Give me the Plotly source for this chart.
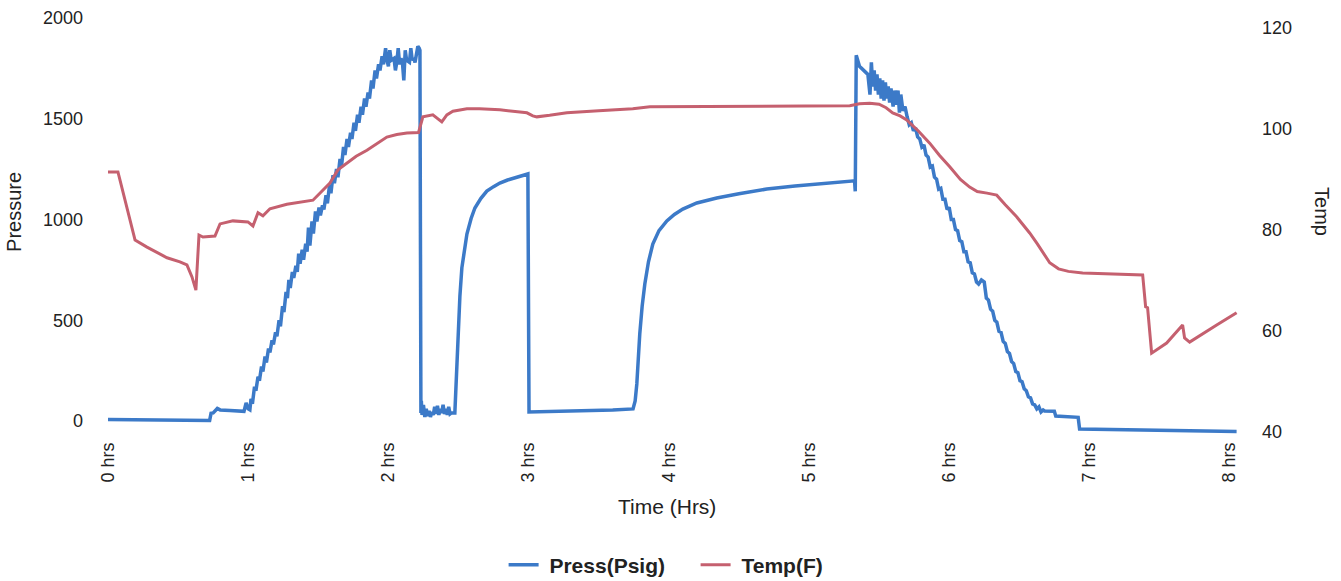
import plotly.graph_objects as go

# ---- Data ----
hour_ticks = [0, 1, 2, 3, 4, 5, 6, 7, 8]
hour_labels = ["0 hrs", "1 hrs", "2 hrs", "3 hrs", "4 hrs", "5 hrs", "6 hrs", "7 hrs", "8 hrs"]
press_ticks = [0, 500, 1000, 1500, 2000]
temp_ticks = [40, 60, 80, 100, 120]

press_hours = [
    0.0, 0.3, 0.6, 0.725, 0.735, 0.75, 0.78, 0.80, 0.87, 0.97, 0.985, 1.0, 1.012,
    1.02, 1.03, 1.045, 1.055, 1.07, 1.08, 1.095, 1.105, 1.12, 1.13, 1.145, 1.155,
    1.17, 1.18, 1.195, 1.205, 1.22, 1.23, 1.245, 1.255, 1.27, 1.28, 1.29, 1.30,
    1.315, 1.325, 1.34, 1.35, 1.36, 1.37, 1.385, 1.395, 1.41, 1.42, 1.43, 1.44,
    1.455, 1.465, 1.48, 1.49, 1.505, 1.515, 1.53, 1.54, 1.555, 1.565, 1.58, 1.59,
    1.605, 1.615, 1.63, 1.64, 1.655, 1.665, 1.68, 1.69, 1.705, 1.715, 1.73, 1.74,
    1.755, 1.765, 1.78, 1.79, 1.805, 1.815, 1.83, 1.84, 1.855, 1.865, 1.88, 1.89,
    1.905, 1.915, 1.93, 1.94, 1.955, 1.965, 1.98, 1.99,
    2.00, 2.01, 2.02, 2.04, 2.05, 2.06, 2.07, 2.08, 2.09, 2.10, 2.11, 2.12, 2.13,
    2.15, 2.16, 2.17, 2.18, 2.19, 2.20, 2.21, 2.22, 2.225,
    2.232, 2.235, 2.24, 2.25, 2.26, 2.27, 2.28, 2.29, 2.30, 2.31, 2.32, 2.33, 2.34,
    2.35, 2.36, 2.37, 2.38, 2.39, 2.40, 2.41, 2.42, 2.43, 2.44, 2.45, 2.474,
    2.48, 2.487, 2.496, 2.51, 2.524, 2.54, 2.56, 2.59, 2.617, 2.66, 2.702, 2.75,
    2.795, 2.85, 2.916, 2.995,
    3.003, 3.3, 3.6, 3.745, 3.76, 3.772, 3.78, 3.793, 3.81, 3.829, 3.855, 3.886,
    3.93, 3.986, 4.04, 4.1, 4.2, 4.342, 4.5, 4.699, 4.9, 5.055, 5.2, 5.325, 5.33,
    5.337, 5.36, 5.38, 5.40, 5.42, 5.435, 5.445, 5.455, 5.465, 5.475, 5.485, 5.495,
    5.505, 5.515, 5.525, 5.535, 5.545, 5.555, 5.565, 5.575, 5.585, 5.60, 5.61, 5.62,
    5.635, 5.645, 5.655, 5.67, 5.685,
    5.70, 5.715, 5.73, 5.745, 5.76, 5.775, 5.79, 5.805, 5.82, 5.835, 5.85, 5.865,
    5.88, 5.895, 5.91, 5.925, 5.94, 5.955, 5.97, 5.985, 6.00, 6.015, 6.03, 6.045,
    6.06, 6.075, 6.09, 6.105, 6.12, 6.135, 6.15, 6.165, 6.18, 6.195, 6.21, 6.23,
    6.25, 6.265, 6.28, 6.295, 6.31, 6.325, 6.34, 6.355, 6.37, 6.385, 6.40, 6.415,
    6.43, 6.445, 6.46, 6.475, 6.49, 6.505, 6.52, 6.535, 6.55, 6.565, 6.58, 6.595,
    6.61, 6.625, 6.64, 6.655, 6.67, 6.68, 6.75, 6.76, 6.92, 6.93, 8.05,
]
press_psig = [
    8, 6, 4, 3, 38, 40, 62, 55, 52, 48, 90, 60, 55,
    110, 85, 170, 150, 220, 200, 270, 245, 320, 290, 360, 340,
    400, 380, 440, 420, 500, 470, 570, 540, 640, 610, 700, 660,
    740, 710, 770, 740, 830, 780, 850, 800, 880, 840, 960, 870,
    990, 930, 1040, 990, 1060, 1020, 1070, 1050, 1120, 1080, 1170, 1130,
    1220, 1180, 1250, 1210, 1300, 1260, 1360, 1320, 1400, 1360, 1430, 1400,
    1480, 1440, 1520, 1480, 1560, 1520, 1600, 1560, 1630, 1600, 1690, 1650,
    1740, 1700, 1770, 1740, 1810, 1770, 1850, 1790,
    1760, 1840, 1790, 1800, 1740, 1780, 1850, 1770, 1800, 1780, 1690, 1840, 1790,
    1780, 1850, 1790, 1800, 1780, 1820, 1860, 1850, 1840,
    40, 100, 30, 80, 20, 60, 25, 50, 20, 45, 30, 70, 35,
    75, 30, 60, 40, 80, 35, 60, 30, 70, 35, 40, 40,
    150, 300, 432, 620, 760, 850, 928, 1005, 1057, 1105, 1141, 1163,
    1181, 1196, 1208, 1226,
    45, 48, 55, 60, 100, 184, 300, 432, 570, 680, 790, 878,
    945, 993, 1025, 1052, 1082, 1107, 1128, 1151, 1166, 1176, 1185, 1192, 1140,
    1815, 1760, 1745, 1730, 1720, 1620, 1780, 1660, 1740, 1640, 1720, 1620,
    1700, 1600, 1690, 1590, 1680, 1600, 1660, 1580, 1650, 1560, 1640, 1570,
    1640, 1530, 1620, 1540, 1560,
    1510, 1470, 1480, 1440, 1455, 1410, 1400, 1360, 1370, 1320, 1310, 1260,
    1265, 1210, 1200, 1150, 1155, 1100, 1100, 1050, 1060, 1000, 1000, 950,
    945, 895, 890, 840, 840, 790, 785, 735, 730, 690, 680, 700,
    690, 610, 600, 555, 545, 500, 490, 445, 440, 395, 385, 345,
    335, 295, 285, 245, 240, 200, 195, 160, 150, 120, 115, 85,
    80, 60, 70, 45, 55, 50, 48, 25, 18, -40, -52,
]

temp_hours = [
    0.0, 0.071, 0.193, 0.278, 0.421, 0.513, 0.563, 0.599, 0.627, 0.649, 0.677,
    0.763, 0.799, 0.891, 0.998, 1.034, 1.070, 1.105, 1.155, 1.276, 1.462, 1.583,
    1.640, 1.700, 1.770, 1.847, 1.920, 1.989, 2.060, 2.132, 2.215, 2.246, 2.317,
    2.381, 2.417, 2.460, 2.560, 2.650, 2.795, 2.900, 2.988, 3.030, 3.059, 3.150,
    3.273, 3.500, 3.743, 3.865, 4.5, 5.291, 5.360, 5.433, 5.500, 5.550, 5.597,
    5.650, 5.697, 5.780, 5.861, 5.930, 6.004, 6.080, 6.146, 6.200, 6.270, 6.339,
    6.400, 6.481, 6.574, 6.630, 6.717, 6.780, 6.850, 6.952, 7.380, 7.401,
    7.415, 7.444, 7.551, 7.665, 7.679, 7.715, 7.908, 8.050,
]
temp_f = [
    91.5, 91.5, 78.0, 76.6, 74.5, 73.7, 73.1, 70.7, 68.1, 79.0, 78.6,
    78.8, 81.2, 81.8, 81.6, 80.8, 83.4, 82.8, 84.2, 85.1, 85.9, 89.3,
    91.9, 93.2, 94.6, 95.8, 97.2, 98.4, 98.9, 99.2, 99.3, 102.4, 102.8,
    101.4, 102.8, 103.5, 104.0, 104.0, 103.8, 103.5, 103.2, 102.6, 102.4, 102.7,
    103.2, 103.6, 104.0, 104.4, 104.5, 104.6, 105.0, 105.1, 104.9, 104.2, 103.2,
    102.6, 101.8, 99.6, 97.2, 94.8, 92.5, 90.0, 88.5, 87.6, 87.3, 86.9,
    85.0, 82.6, 79.4, 77.2, 73.5, 72.3, 71.8, 71.5, 71.1, 64.8,
    64.6, 55.6, 57.6, 61.2, 58.6, 57.8, 61.2, 63.6,
]

BLUE = "#3c7ac8"
RED = "#c5606f"
FONT = "Liberation Sans, Arial, sans-serif"
TXT = "#222222"

fig = go.Figure()
fig.add_trace(go.Scatter(
    x=press_hours, y=press_psig, mode="lines", name="&nbsp;<b>Press(Psig)</b>",
    line=dict(color=BLUE, width=3.5), yaxis="y",
))
fig.add_trace(go.Scatter(
    x=temp_hours, y=temp_f, mode="lines", name="&nbsp;<b>Temp(F)</b>",
    line=dict(color=RED, width=3), yaxis="y2",
))

fig.update_layout(
    width=1341, height=581,
    margin=dict(l=108, r=103, t=15, b=146, autoexpand=False),
    paper_bgcolor="white", plot_bgcolor="white",
    font=dict(family=FONT, size=18, color=TXT),
    showlegend=True,
    legend=dict(orientation="h", x=0.52, xanchor="center", y=-0.31, yanchor="middle",
                font=dict(family=FONT, size=21, color=TXT), itemwidth=30,
                entrywidth=147),
    xaxis=dict(
        range=[0, 8.06], tickmode="array", tickvals=hour_ticks, ticktext=hour_labels,
        tickangle=-90, showgrid=False, zeroline=False, showline=False, automargin=False,
        ticks="", ticklabelstandoff=3, tickfont=dict(size=18, color=TXT),
    ),
    yaxis=dict(
        range=[-69.5, 2014.9], tickmode="array", tickvals=press_ticks,
        showgrid=False, zeroline=False, showline=False, ticks="", automargin=False,
        ticklabelstandoff=24, tickfont=dict(size=18, color=TXT),
    ),
    yaxis2=dict(
        range=[39.4, 122.57], overlaying="y", side="right", tickmode="array",
        tickvals=temp_ticks, showgrid=False, zeroline=False, automargin=False,
        showline=False, ticks="", ticklabelstandoff=23,
        tickfont=dict(size=18, color=TXT),
    ),
    annotations=[
        dict(text="Time (Hrs)", xref="paper", yref="paper", x=0.495, y=-0.171,
             xanchor="center", yanchor="middle", showarrow=False,
             font=dict(family=FONT, size=21, color=TXT)),
        dict(text="Pressure", xref="paper", yref="paper", x=-0.0832, y=0.531,
             xanchor="center", yanchor="middle", showarrow=False, textangle=-90,
             font=dict(family=FONT, size=20, color=TXT)),
        dict(text="Temp", xref="paper", yref="paper", x=1.0743, y=0.531,
             xanchor="center", yanchor="middle", showarrow=False, textangle=90,
             font=dict(family=FONT, size=20, color=TXT)),
    ],
)

fig.write_html("out.html", config={"displayModeBar": False},
               post_script="document.body.style.margin='0';")
